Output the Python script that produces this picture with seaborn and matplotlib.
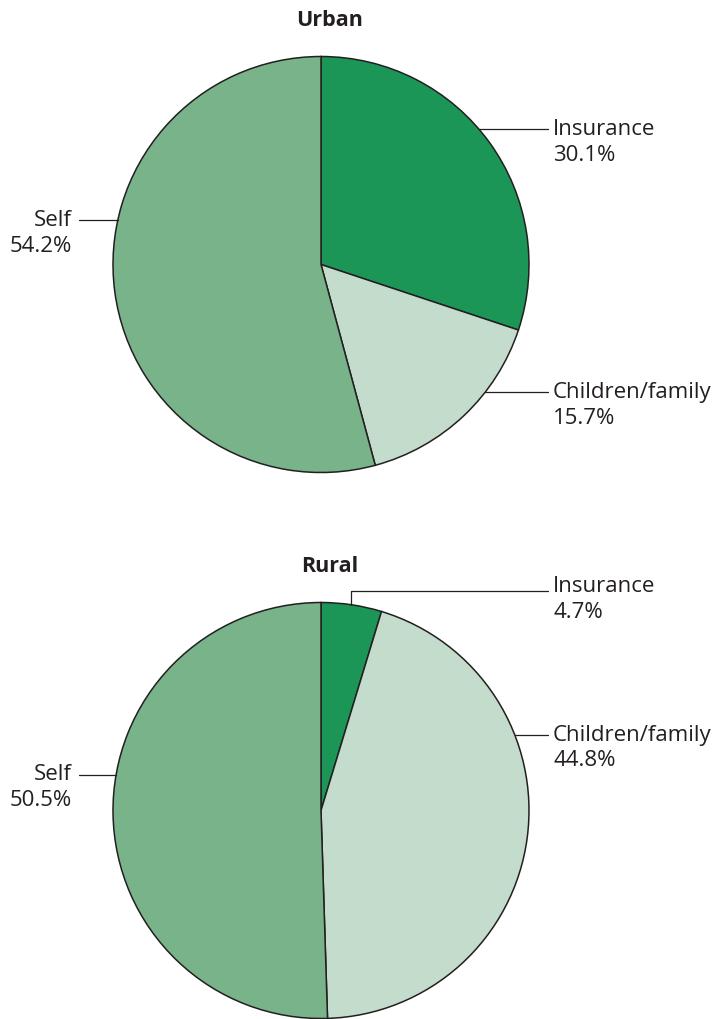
import numpy as np
import matplotlib.pyplot as plt
import seaborn as sns

# datos
categorias = ['Insurance', 'Children/family', 'Self']
urbano = [30.1, 15.7, 54.2]
rural = [4.7, 44.8, 50.5]
titulos = ['Urban', 'Rural']

colores = ['#1b9657', '#c3dccb', '#78b38a']

sns.set_theme(style="white")
plt.rcParams['font.family'] = ['Open Sans', 'DejaVu Sans']

W, H = 717, 1019
fig = plt.figure(figsize=(W / 100, H / 100), dpi=100)
ax = fig.add_axes([0, 0, 1, 1])

R = 208
cx = 321
centros = [264.5, 810.5]  # en pixeles desde arriba
txt_kw = dict(fontsize=16, color='#231f20')


def borde_x(cy, y, lado):
    # punto del circulo a la altura y
    dy = y - cy
    return cx + lado * np.sqrt(R ** 2 - dy ** 2)


for valores, titulo, cy in zip([urbano, rural], titulos, centros):
    ax.pie(valores, colors=colores, startangle=90, counterclock=False,
           center=(cx, H - cy), radius=R,
           wedgeprops=dict(edgecolor='#231f20', linewidth=1.1))
    ax.text(330, H - (cy - 244), titulo, ha='center', va='center',
            fontsize=15.5, fontweight='bold', color='#231f20')

# etiquetas urbano
cy = centros[0]
etiquetas_u = [(129, 1, 'Insurance', urbano[0]),
               (392, 1, 'Children/family', urbano[1]),
               (220, -1, 'Self', urbano[2])]
# etiquetas rural
cy2 = centros[1]
etiquetas_r = [(735, 1, 'Children/family', rural[1]),
               (775, -1, 'Self', rural[2])]

for c, lista in [(cy, etiquetas_u), (cy2, etiquetas_r)]:
    for y, lado, nombre, v in lista:
        x0 = borde_x(c, y, lado)
        x1 = 548 if lado > 0 else 79
        ax.plot([x0, x1], [H - y, H - y], color='#231f20', lw=0.9)
        xt = 553 if lado > 0 else 72
        ha = 'left' if lado > 0 else 'right'
        ax.text(xt, H - y, nombre, ha=ha, va='center', **txt_kw)
        ax.text(xt, H - y - 26, f'{v:.1f}%', ha=ha, va='center', **txt_kw)

# seguro rural: linea con codo
ax.plot([351, 351, 548], [H - 605, H - 591, H - 591], color='#231f20', lw=0.9)
ax.text(553, H - 587, 'Insurance', ha='left', va='center', **txt_kw)
ax.text(553, H - 612, f'{rural[0]:.1f}%', ha='left', va='center', **txt_kw)

# pie() cambia los limites, se fijan al final
ax.set_xlim(0, W)
ax.set_ylim(0, H)
ax.set_aspect('equal')
ax.axis('off')

fig.savefig('out.png', dpi=100)
